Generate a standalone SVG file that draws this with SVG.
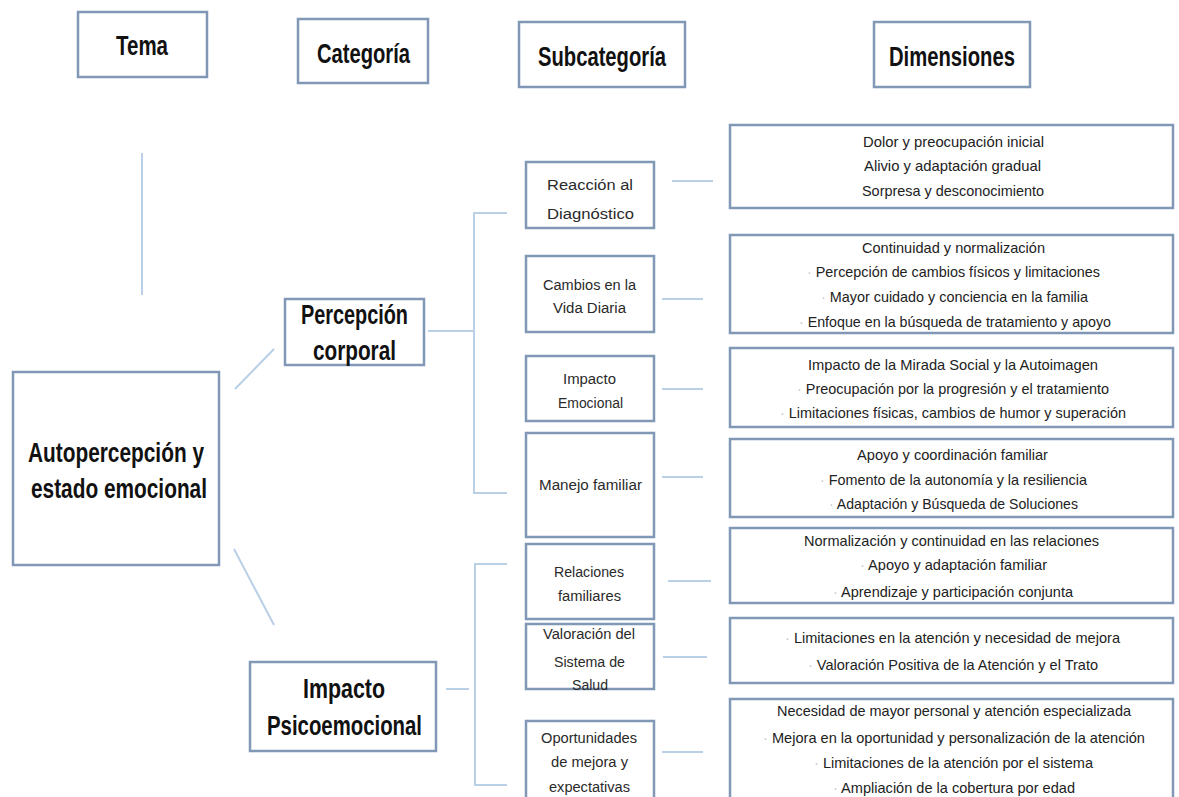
<svg xmlns="http://www.w3.org/2000/svg" width="1179" height="797" viewBox="0 0 1179 797">
<style>
.box{fill:#ffffff;stroke:#8097b6;stroke-width:2.5}
.con{fill:none;stroke:#b9d0e7;stroke-width:2}
.hd{font-family:"Liberation Sans",Arial,sans-serif;font-weight:bold;font-size:27px;fill:#111111}
.big{font-family:"Liberation Sans",Arial,sans-serif;font-weight:bold;font-size:27px;fill:#111111}
.sub{font-family:"Liberation Sans",Arial,sans-serif;font-size:15.5px;fill:#2a2a2a}
.dim{font-family:"Liberation Sans",Arial,sans-serif;font-size:15px;fill:#222222}
.bul{fill:#c4c4c4}
</style>
<rect width="1179" height="797" fill="#ffffff"/>
<g id="connectors">
<line class="con" x1="142" y1="153" x2="142" y2="295"/>
<line class="con" x1="235" y1="389" x2="274" y2="349"/>
<line class="con" x1="234" y1="549" x2="274" y2="625"/>
<line class="con" x1="428" y1="331" x2="474" y2="331"/>
<path class="con" d="M507,213 H474 V493 H507"/>
<line class="con" x1="446" y1="689" x2="469" y2="689"/>
<path class="con" d="M507,564 H475 V785 H507"/>
<line class="con" x1="672" y1="181" x2="713" y2="181"/>
<line class="con" x1="662" y1="299" x2="703" y2="299"/>
<line class="con" x1="662" y1="389" x2="703" y2="389"/>
<line class="con" x1="662" y1="477" x2="703" y2="477"/>
<line class="con" x1="668" y1="581" x2="711" y2="581"/>
<line class="con" x1="663" y1="657" x2="707" y2="657"/>
<line class="con" x1="662" y1="752" x2="703" y2="752"/>
</g>
<g id="h-tema"><rect class="box" x="78" y="12" width="129" height="65"/><text class="hd" x="116" y="55" textLength="52" lengthAdjust="spacingAndGlyphs">Tema</text></g>
<g id="h-categoria"><rect class="box" x="298" y="19" width="130" height="64"/><text class="hd" x="317" y="63" textLength="93" lengthAdjust="spacingAndGlyphs">Categoría</text></g>
<g id="h-subcategoria"><rect class="box" x="519" y="22" width="166" height="65"/><text class="hd" x="538" y="66" textLength="128" lengthAdjust="spacingAndGlyphs">Subcategoría</text></g>
<g id="h-dimensiones"><rect class="box" x="874" y="22" width="156" height="65"/><text class="hd" x="889" y="66" textLength="126" lengthAdjust="spacingAndGlyphs">Dimensiones</text></g>
<g id="tema"><rect class="box" x="13" y="372" width="206" height="193"/>
<text class="big" x="28" y="462" textLength="176" lengthAdjust="spacingAndGlyphs">Autopercepción y</text>
<text class="big" x="31" y="498" textLength="176" lengthAdjust="spacingAndGlyphs">estado emocional</text></g>
<g id="cat-percepcion"><rect class="box" x="285" y="299" width="139" height="66"/>
<text class="big" x="301" y="324" textLength="107" lengthAdjust="spacingAndGlyphs">Percepción</text>
<text class="big" x="313" y="360" textLength="83" lengthAdjust="spacingAndGlyphs">corporal</text></g>
<g id="cat-impacto"><rect class="box" x="250" y="662" width="186" height="89"/>
<text class="big" x="303" y="698" textLength="82" lengthAdjust="spacingAndGlyphs">Impacto</text>
<text class="big" x="267" y="735" textLength="155" lengthAdjust="spacingAndGlyphs">Psicoemocional</text></g>
<g id="sub-reaccion"><rect class="box" x="526" y="162" width="128" height="66"/>
<text class="sub" x="547" y="190" textLength="86" lengthAdjust="spacingAndGlyphs">Reacción al</text>
<text class="sub" x="547" y="219" textLength="87" lengthAdjust="spacingAndGlyphs">Diagnóstico</text></g>
<g id="sub-cambios"><rect class="box" x="526" y="256" width="128" height="76"/>
<text class="sub" x="543" y="290" textLength="93" lengthAdjust="spacingAndGlyphs">Cambios en la</text>
<text class="sub" x="553" y="313" textLength="73" lengthAdjust="spacingAndGlyphs">Vida Diaria</text></g>
<g id="sub-impacto"><rect class="box" x="526" y="356" width="128" height="65"/>
<text class="sub" x="563" y="384" textLength="53" lengthAdjust="spacingAndGlyphs">Impacto</text>
<text class="sub" x="558" y="408" textLength="65" lengthAdjust="spacingAndGlyphs">Emocional</text></g>
<g id="sub-manejo"><rect class="box" x="526" y="433" width="128" height="104"/>
<text class="sub" x="539" y="490" textLength="103" lengthAdjust="spacingAndGlyphs">Manejo familiar</text></g>
<g id="sub-relaciones"><rect class="box" x="526" y="544" width="128" height="75"/>
<text class="sub" x="554" y="577" textLength="70" lengthAdjust="spacingAndGlyphs">Relaciones</text>
<text class="sub" x="558" y="601" textLength="63" lengthAdjust="spacingAndGlyphs">familiares</text></g>
<g id="sub-valoracion"><rect class="box" x="526" y="624" width="128" height="65"/>
<text class="sub" x="543" y="639" textLength="92" lengthAdjust="spacingAndGlyphs">Valoración del</text>
<text class="sub" x="554" y="667" textLength="71" lengthAdjust="spacingAndGlyphs">Sistema de</text>
<text class="sub" x="572" y="690" textLength="36" lengthAdjust="spacingAndGlyphs">Salud</text></g>
<g id="sub-oportunidades"><rect class="box" x="526" y="721" width="128" height="90"/>
<text class="sub" x="541" y="743" textLength="96" lengthAdjust="spacingAndGlyphs">Oportunidades</text>
<text class="sub" x="551" y="767" textLength="77" lengthAdjust="spacingAndGlyphs">de mejora y</text>
<text class="sub" x="549" y="792" textLength="81" lengthAdjust="spacingAndGlyphs">expectativas</text></g>
<g id="dim-1"><rect class="box" x="730" y="125" width="443" height="83"/>
<text class="dim" x="863" y="147" textLength="181" lengthAdjust="spacingAndGlyphs">Dolor y preocupación inicial</text>
<text class="dim" x="864" y="171" textLength="177" lengthAdjust="spacingAndGlyphs">Alivio y adaptación gradual</text>
<text class="dim" x="862" y="196" textLength="182" lengthAdjust="spacingAndGlyphs">Sorpresa y desconocimiento</text></g>
<g id="dim-2"><rect class="box" x="730" y="235" width="443" height="98"/>
<text class="dim" x="862" y="253" textLength="183" lengthAdjust="spacingAndGlyphs">Continuidad y normalización</text>
<text class="dim" x="807" y="277" textLength="293" lengthAdjust="spacingAndGlyphs"><tspan class="bul">· </tspan>Percepción de cambios físicos y limitaciones</text>
<text class="dim" x="821" y="302" textLength="267" lengthAdjust="spacingAndGlyphs"><tspan class="bul">· </tspan>Mayor cuidado y conciencia en la familia</text>
<text class="dim" x="799" y="327" textLength="312" lengthAdjust="spacingAndGlyphs"><tspan class="bul">· </tspan>Enfoque en la búsqueda de tratamiento y apoyo</text></g>
<g id="dim-3"><rect class="box" x="730" y="348" width="443" height="79"/>
<text class="dim" x="808" y="370" textLength="290" lengthAdjust="spacingAndGlyphs">Impacto de la Mirada Social y la Autoimagen</text>
<text class="dim" x="797" y="394" textLength="312" lengthAdjust="spacingAndGlyphs"><tspan class="bul">· </tspan>Preocupación por la progresión y el tratamiento</text>
<text class="dim" x="780" y="418" textLength="346" lengthAdjust="spacingAndGlyphs"><tspan class="bul">· </tspan>Limitaciones físicas, cambios de humor y superación</text></g>
<g id="dim-4"><rect class="box" x="730" y="439" width="443" height="78"/>
<text class="dim" x="857" y="460" textLength="191" lengthAdjust="spacingAndGlyphs">Apoyo y coordinación familiar</text>
<text class="dim" x="820" y="485" textLength="267" lengthAdjust="spacingAndGlyphs"><tspan class="bul">· </tspan>Fomento de la autonomía y la resiliencia</text>
<text class="dim" x="829" y="509" textLength="249" lengthAdjust="spacingAndGlyphs"><tspan class="bul">· </tspan>Adaptación y Búsqueda de Soluciones</text></g>
<g id="dim-5"><rect class="box" x="730" y="528" width="443" height="75"/>
<text class="dim" x="804" y="546" textLength="295" lengthAdjust="spacingAndGlyphs">Normalización y continuidad en las relaciones</text>
<text class="dim" x="860" y="570" textLength="187" lengthAdjust="spacingAndGlyphs"><tspan class="bul">· </tspan>Apoyo y adaptación familiar</text>
<text class="dim" x="833" y="597" textLength="240" lengthAdjust="spacingAndGlyphs"><tspan class="bul">· </tspan>Aprendizaje y participación conjunta</text></g>
<g id="dim-6"><rect class="box" x="730" y="618" width="443" height="65"/>
<text class="dim" x="785" y="643" textLength="335" lengthAdjust="spacingAndGlyphs"><tspan class="bul">· </tspan>Limitaciones en la atención y necesidad de mejora</text>
<text class="dim" x="808" y="670" textLength="290" lengthAdjust="spacingAndGlyphs"><tspan class="bul">· </tspan>Valoración Positiva de la Atención y el Trato</text></g>
<g id="dim-7"><rect class="box" x="730" y="699" width="443" height="110"/>
<text class="dim" x="777" y="716" textLength="354" lengthAdjust="spacingAndGlyphs">Necesidad de mayor personal y atención especializada</text>
<text class="dim" x="763" y="743" textLength="382" lengthAdjust="spacingAndGlyphs"><tspan class="bul">· </tspan>Mejora en la oportunidad y personalización de la atención</text>
<text class="dim" x="814" y="768" textLength="279" lengthAdjust="spacingAndGlyphs"><tspan class="bul">· </tspan>Limitaciones de la atención por el sistema</text>
<text class="dim" x="833" y="793" textLength="242" lengthAdjust="spacingAndGlyphs"><tspan class="bul">· </tspan>Ampliación de la cobertura por edad</text></g>
</svg>
